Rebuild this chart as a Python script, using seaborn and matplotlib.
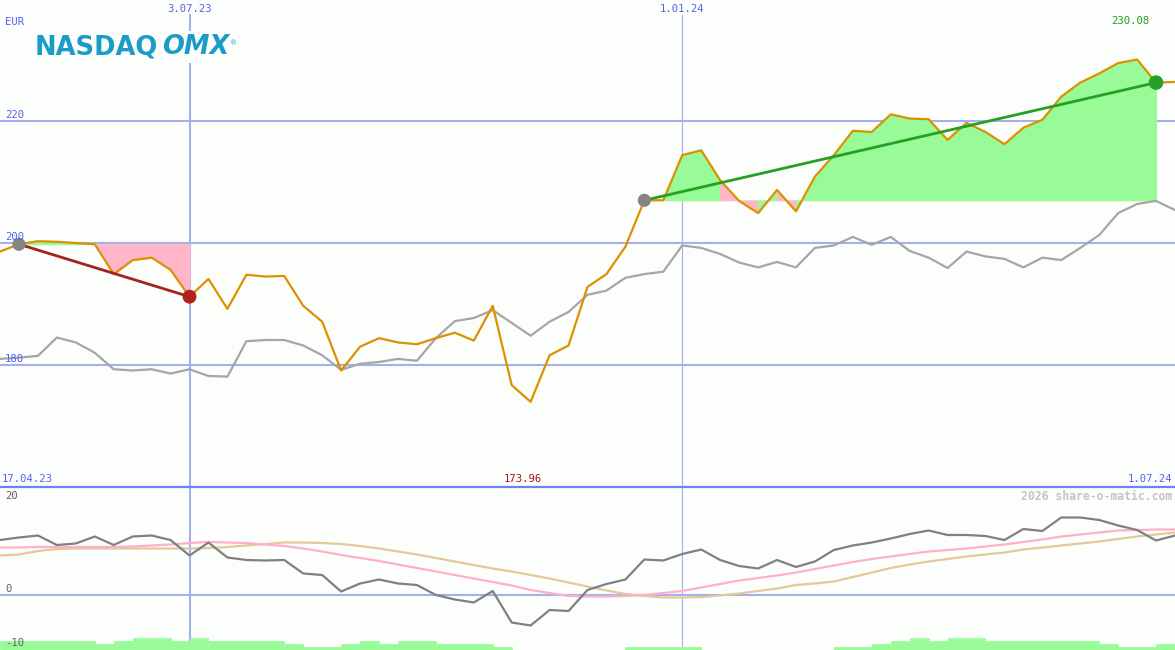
import numpy as np
import matplotlib
matplotlib.use("Agg")
import matplotlib.pyplot as plt
from matplotlib.lines import Line2D
import seaborn as sns

# ---------------- data (weekly points, index 0..62) ----------------
share = [198.6, 199.8, 200.3, 200.2, 200.0, 199.8, 194.9, 197.2, 197.6, 195.6,
         191.2, 194.1, 189.2, 194.8, 194.5, 194.6, 189.7, 187.1, 179.1, 183.0,
         184.4, 183.7, 183.4, 184.4, 185.3, 184.0, 189.7, 176.7, 173.96, 181.6,
         183.2, 192.8, 194.9, 199.4, 207.0, 207.0, 214.4, 215.2, 210.3, 206.9,
         204.9, 208.7, 205.2, 210.9, 214.4, 218.4, 218.2, 221.1, 220.4, 220.3,
         216.9, 219.7, 218.2, 216.2, 218.9, 220.2, 224.0, 226.3, 227.8, 229.5,
         230.08, 226.3, 226.4]
index_line = [181.0, 181.2, 181.5, 184.5, 183.7, 182.0, 179.3, 179.1, 179.3, 178.6,
              179.3, 178.2, 178.1, 183.9, 184.1, 184.1, 183.2, 181.6, 179.2, 180.2,
              180.5, 181.0, 180.7, 184.4, 187.2, 187.7, 189.0, 186.9, 184.8, 187.1,
              188.7, 191.5, 192.2, 194.3, 194.9, 195.3, 199.6, 199.2, 198.2, 196.8,
              196.0, 196.9, 196.0, 199.2, 199.6, 201.0, 199.7, 201.0, 198.7, 197.6,
              195.9, 198.6, 197.8, 197.4, 196.0, 197.6, 197.2, 199.2, 201.3, 204.9,
              206.4, 206.9, 205.4]
momentum = [11.0, 11.5, 11.9, 10.0, 10.3, 11.7, 10.0, 11.7, 11.9, 11.0,
            7.9, 10.5, 7.5, 7.0, 6.9, 7.0, 4.3, 4.0, 0.7, 2.3,
            3.1, 2.3, 2.0, 0.0, -0.9, -1.5, 0.8, -5.5, -6.1, -3.0,
            -3.2, 1.0, 2.2, 3.1, 7.1, 6.9, 8.2, 9.1, 7.0, 5.8,
            5.3, 7.0, 5.6, 6.7, 9.0, 9.9, 10.5, 11.3, 12.2, 12.9,
            12.0, 12.0, 11.8, 11.0, 13.2, 12.8, 15.5, 15.5, 15.0, 13.9,
            13.0, 10.9, 11.9]
avg_fast = [9.5, 9.5, 9.6, 9.6, 9.6, 9.6, 9.6, 9.7, 9.9, 10.1,
            10.4, 10.6, 10.5, 10.4, 10.1, 9.8, 9.3, 8.7, 8.0, 7.4,
            6.8, 6.1, 5.4, 4.7, 4.0, 3.3, 2.6, 1.9, 1.0, 0.4,
            -0.2, -0.3, -0.3, -0.2, 0.0, 0.4, 0.8, 1.5, 2.2, 2.9,
            3.4, 3.9, 4.5, 5.2, 5.9, 6.6, 7.2, 7.7, 8.2, 8.7,
            9.0, 9.3, 9.7, 10.1, 10.6, 11.1, 11.7, 12.1, 12.5, 12.9,
            13.0, 13.1, 13.1]
avg_slow = [7.9, 8.1, 8.8, 9.2, 9.3, 9.3, 9.3, 9.3, 9.3, 9.3,
            9.3, 9.4, 9.6, 9.9, 10.2, 10.5, 10.5, 10.4, 10.2, 9.8,
            9.3, 8.7, 8.1, 7.4, 6.7, 6.0, 5.3, 4.7, 4.0, 3.3,
            2.5, 1.7, 0.9, 0.2, -0.2, -0.5, -0.5, -0.4, -0.1, 0.3,
            0.8, 1.3, 2.0, 2.3, 2.7, 3.6, 4.5, 5.4, 6.1, 6.7,
            7.2, 7.7, 8.1, 8.5, 9.1, 9.5, 9.9, 10.3, 10.7, 11.2,
            11.7, 12.1, 12.5]
volume_level = [3, 3, 3, 3, 3, 2, 3, 4, 4, 3, 4, 3, 3, 3, 3, 2, 1, 1, 2, 3,
                2, 3, 3, 2, 2, 2, 1, 0, 0, 0, 0, 0, 0, 1, 1, 1, 1, 0, 0, 0,
                0, 0, 0, 0, 1, 1, 2, 3, 4, 3, 4, 4, 3, 3, 3, 3, 3, 3, 2, 1,
                1, 2]
trend_down = (1, 10)   # indices of start/end of first trend
trend_up = (34, 61)    # indices of start/end of second trend
date_labels = {10: "3.07.23", 36: "1.01.24"}
y_labels = [220, 200, 180]
sub_labels = [20, 0, -10]
start_label, end_label = "17.04.23", "1.07.24"
min_label, max_label = "173.96", "230.08"

# ---------------- style ----------------
BG = "#fcfefc"
GRID = "#a3b0f0"
BLUE_TXT = "#5362ee"
ORANGE = "#dc9100"
GREEN_FILL = "#98fb98"
PINK_FILL = "#ffb6c8"
MONO = "DejaVu Sans Mono"

W, H = 1175, 650
fig = plt.figure(figsize=(W / 100, H / 100), dpi=100, facecolor=BG)
ax = fig.add_axes([0, 163 / H, 1, 487 / H])
ax2 = fig.add_axes([0, 0, 1, 163 / H])
for a in (ax, ax2):
    a.set_facecolor(BG)
    a.set_xticks([]); a.set_yticks([])
    for s in a.spines.values():
        s.set_visible(False)
    a.set_xlim(0, 62)
ax.set_ylim(160, 239.84)
ax2.set_ylim(-11, 21.6)

x = np.arange(len(share))
share_a = np.array(share)

def fx(px):
    return px / W

def fy(py):
    return 1 - py / H

# gridlines
for v in y_labels:
    ax.axhline(v, color=GRID, lw=1.5, zorder=1)
ax.axvline(10, ymax=1 - 15 / 487, color=GRID, lw=1.5, zorder=1)
ax.axvline(36, ymax=1 - 15 / 487, color=GRID, lw=0.8, zorder=1)
ax2.axvline(10, color=GRID, lw=1.5, zorder=1)
ax2.axvline(36, color=GRID, lw=0.8, zorder=1)
ax2.axhline(0, color=GRID, lw=1.5, zorder=1)
fig.add_artist(Line2D([0, 1], [163 / H, 163 / H], transform=fig.transFigure,
                      color="#7080f0", lw=1.6, zorder=5))

# trend fills (colour by segment end relative to start value)
for (s, e) in (trend_down, trend_up):
    base = share_a[s]
    for i in range(s, e):
        col = GREEN_FILL if share_a[i + 1] >= base else PINK_FILL
        ax.fill_between([i, i + 1], [share_a[i], share_a[i + 1]], base,
                        facecolor=col, edgecolor=col, lw=0.7, zorder=2)

# lines
sns.lineplot(x=x, y=index_line, ax=ax, color="#a6a6a6", lw=1.6, zorder=3, legend=False)
sns.lineplot(x=x, y=share, ax=ax, color=ORANGE, lw=1.6, zorder=4, legend=False)

# trend lines & dots
s, e = trend_down
sns.lineplot(x=[s, e], y=[share[s], share[e]], ax=ax, color="#a32222", lw=2.0, zorder=5, legend=False)
s2, e2 = trend_up
sns.lineplot(x=[s2, e2], y=[share[s2], share[e2]], ax=ax, color="#25a025", lw=2.0, zorder=5, legend=False)
sns.scatterplot(x=[s, s2], y=[share[s], share[s2]], ax=ax, color="#858585", s=90,
                edgecolor="none", zorder=6, legend=False)
sns.scatterplot(x=[e], y=[share[e]], ax=ax, color="#b02020", s=100, edgecolor="none", zorder=6, legend=False)
sns.scatterplot(x=[e2], y=[share[e2]], ax=ax, color="#26a026", s=110, edgecolor="none", zorder=6, legend=False)

# lower panel
vol_h = np.array(volume_level) * 0.62
ax2.bar(np.arange(len(volume_level)), vol_h, bottom=-11, width=1.0, align="edge",
        color=GREEN_FILL, edgecolor=GREEN_FILL, lw=0.5, zorder=2)
sns.lineplot(x=x, y=avg_slow, ax=ax2, color="#e3c99a", lw=1.6, zorder=3, legend=False)
sns.lineplot(x=x, y=avg_fast, ax=ax2, color="#ffb0c8", lw=1.6, zorder=3, legend=False)
sns.lineplot(x=x, y=momentum, ax=ax2, color="#808080", lw=1.6, zorder=4, legend=False)

# texts
fs = 7.6
for i, lab in date_labels.items():
    fig.text(fx(i * 1175 / 62), fy(9), lab, ha="center", va="center",
             color=BLUE_TXT, fontsize=fs, family=MONO)
fig.text(fx(5), fy(22), "EUR", ha="left", va="center", color=BLUE_TXT, fontsize=fs, family=MONO)
for v in y_labels:
    py = 243 - (v - 200) * 6.1
    fig.text(fx(5), fy(py - 6), str(v), ha="left", va="center", color=BLUE_TXT,
             fontsize=fs, family=MONO)
fig.text(fx(2), fy(479), start_label, ha="left", va="center", color=BLUE_TXT, fontsize=fs, family=MONO)
fig.text(fx(1172), fy(479), end_label, ha="right", va="center", color=BLUE_TXT, fontsize=fs, family=MONO)
fig.text(fx(523), fy(479), min_label, ha="center", va="center", color="#a01414", fontsize=fs, family=MONO)
fig.text(fx(1130), fy(21), max_label, ha="center", va="center", color="#229922", fontsize=fs, family=MONO)
fig.text(fx(1172), fy(496), "2026 share-o-matic.com", ha="right", va="center",
         color="#c4c4c4", fontsize=8.3, family=MONO, fontweight="bold")
for v, py in zip(sub_labels, (496, 589, 643)):
    fig.text(fx(5), fy(py), str(v), ha="left", va="center", color="#606060", fontsize=fs, family=MONO)

# logo
fig.text(fx(35), fy(54), "NASDAQ", ha="left", va="baseline", color="#1b9cc8",
         fontsize=18.5, fontweight="heavy", family="DejaVu Sans",
         bbox=dict(facecolor=BG, edgecolor="none", pad=2), zorder=10)
fig.text(fx(162), fy(54), "OMX", ha="left", va="baseline", color="#1b9cc8",
         fontsize=18.5, fontweight="heavy", fontstyle="italic", family="DejaVu Sans",
         bbox=dict(facecolor=BG, edgecolor="none", pad=2), zorder=10)
fig.text(fx(230), fy(43), "®", ha="left", va="center", color="#1b9cc8", fontsize=5, zorder=10)

fig.savefig("out.png", dpi=100, facecolor=BG)
